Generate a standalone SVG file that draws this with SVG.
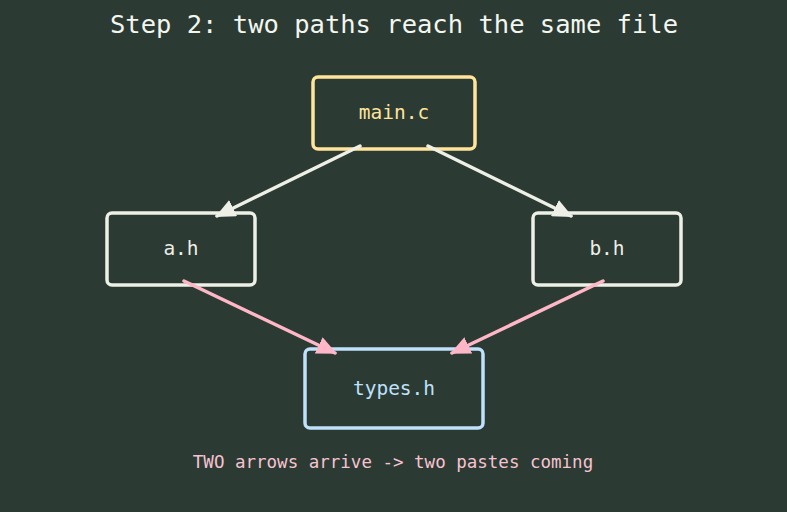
<svg xmlns="http://www.w3.org/2000/svg" width="787" height="512" viewBox="0 0 787 512">
<style>
text{font-family:"DejaVu Sans Mono",monospace;text-anchor:middle}
.t{font-size:25.5px;fill:#f3f6ef}
.n{font-size:19.5px}
.box{fill:none;stroke-width:3.5}
.e{stroke-width:3.5;fill:none;stroke-linecap:round}
</style>
<defs>
<marker id="aw" markerWidth="20" markerHeight="18" refX="18" refY="9" orient="auto" markerUnits="userSpaceOnUse"><path d="M0,0 L20,9 L0,18 Z" fill="#eeefe6"/></marker>
<marker id="ap" markerWidth="20" markerHeight="18" refX="18" refY="9" orient="auto" markerUnits="userSpaceOnUse"><path d="M0,0 L20,9 L0,18 Z" fill="#ffb7c8"/></marker>
</defs>
<rect width="787" height="512" fill="#2b3a33"/>
<text class="t" x="394" y="33">Step 2: two paths reach the same file</text>
<g id="main_c">
<rect class="box" x="313" y="77" width="162" height="72" rx="5" stroke="#ffe49a"/>
<text class="n" x="394" y="119" fill="#ffe49a">main.c</text>
</g>
<g id="a_h">
<rect class="box" x="107" y="213" width="148" height="72" rx="5" stroke="#eeefe6"/>
<text class="n" x="181" y="255" fill="#eeefe6">a.h</text>
</g>
<g id="b_h">
<rect class="box" x="533" y="213" width="148" height="72" rx="5" stroke="#eeefe6"/>
<text class="n" x="607" y="255" fill="#eeefe6">b.h</text>
</g>
<g id="types_h">
<rect class="box" x="305" y="349" width="178" height="79" rx="5" stroke="#bfe1fb"/>
<text class="n" x="394" y="395" fill="#bfe1fb">types.h</text>
</g>
<g id="edges">
<line class="e" x1="360" y1="146" x2="217" y2="216" stroke="#eeefe6" marker-end="url(#aw)"/>
<line class="e" x1="428" y1="146" x2="571" y2="216" stroke="#eeefe6" marker-end="url(#aw)"/>
<line class="e" x1="184" y1="281" x2="335" y2="353" stroke="#ffb7c8" marker-end="url(#ap)"/>
<line class="e" x1="603" y1="281" x2="452" y2="353" stroke="#ffb7c8" marker-end="url(#ap)"/>
</g>
<text x="393" y="468" font-size="17.5" fill="#f7c3d0">TWO arrows arrive -&gt; two pastes coming</text>
</svg>
